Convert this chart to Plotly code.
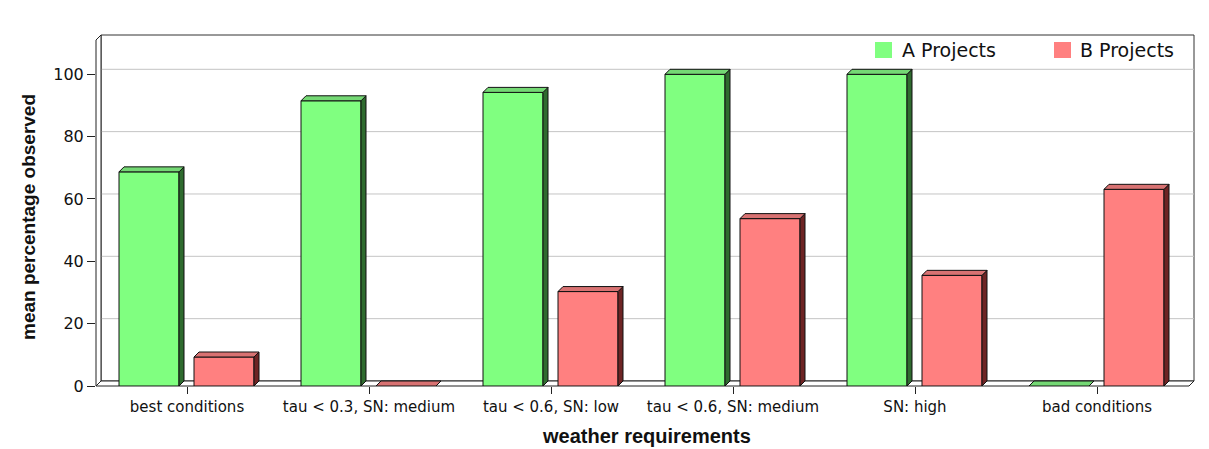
import plotly.graph_objects as go

# ---- data -------------------------------------------------------------
categories = [
    "best conditions",
    "tau < 0.3, SN: medium",
    "tau < 0.6, SN: low",
    "tau < 0.6, SN: medium",
    "SN: high",
    "bad conditions",
]
a_projects = [68.7, 91.5, 94.2, 100.0, 100.0, 0.0]
b_projects = [9.3, 0.0, 30.3, 53.7, 35.5, 63.1]
y_ticks = [0, 20, 40, 60, 80, 100]

# ---- geometry of the plotting area (pixels) --------------------------
W, H = 1209, 449
PX_L, PX_R, PX_T, PX_B = 96, 1194, 35, 386
CAT_PX = 182.0           # pixels per category
Y_PX = 3.117             # pixels per percentage point
DEPTH = 5                # 3D depth offset in pixels

x_lo = -0.5
x_hi = x_lo + (PX_R - PX_L) / CAT_PX
y_hi = (PX_B - PX_T) / Y_PX
dx = DEPTH / CAT_PX
dy = DEPTH / Y_PX

BAR_W = 60 / CAT_PX
OFF_A = -68 / CAT_PX
OFF_B = 7 / CAT_PX


def pxx(p):
    return (p - PX_L) / (PX_R - PX_L)


def pxy(p):
    return (PX_B - p) / (PX_B - PX_T)


series = [
    ("A Projects", a_projects, OFF_A, "#80ff80", "#74d874", "#2f6b2f"),
    ("B Projects", b_projects, OFF_B, "#ff8080", "#d87272", "#6e2424"),
]

fig = go.Figure()
xs = list(range(len(categories)))

for name, vals, off, front, top, side in series:
    # front faces
    fig.add_trace(go.Bar(
        x=xs, y=vals, offset=off, width=BAR_W, name=name,
        marker=dict(color=front, line=dict(color="#111111", width=1)),
        showlegend=False,
    ))
    # side and top faces
    for i, v in enumerate(vals):
        xl = i + off
        xr = xl + BAR_W
        fig.add_trace(go.Scatter(
            x=[xr, xr + dx, xr + dx, xr, xr],
            y=[0, dy, v + dy, v, 0],
            mode="lines", fill="toself", fillcolor=side,
            line=dict(color="#111111", width=1),
            hoverinfo="skip", showlegend=False,
        ))
        fig.add_trace(go.Scatter(
            x=[xl, xl + dx, xr + dx, xr, xl],
            y=[v, v + dy, v + dy, v, v],
            mode="lines", fill="toself", fillcolor=top,
            line=dict(color="#111111", width=1),
            hoverinfo="skip", showlegend=False,
        ))

shapes = []
# back wall
shapes.append(dict(type="rect", xref="paper", yref="paper",
                   x0=pxx(PX_L + DEPTH), x1=pxx(PX_R), y0=pxy(PX_B - DEPTH), y1=pxy(PX_T),
                   line=dict(color="#333333", width=1), fillcolor="white", layer="below"))
# gridlines on the back wall
for t in y_ticks[1:]:
    shapes.append(dict(type="line", xref="paper", yref="y",
                       x0=pxx(PX_L + DEPTH), x1=pxx(PX_R), y0=t + dy, y1=t + dy,
                       line=dict(color="#c4c4c4", width=1), layer="below"))
# left wall
shapes.append(dict(type="path", xref="paper", yref="paper",
                   path=f"M {pxx(PX_L)} {pxy(PX_B)} L {pxx(PX_L)} {pxy(PX_T + DEPTH)} "
                        f"L {pxx(PX_L + DEPTH)} {pxy(PX_T)} L {pxx(PX_L + DEPTH)} {pxy(PX_B - DEPTH)} Z",
                   line=dict(color="#222222", width=1), fillcolor="white", layer="below"))
# floor
shapes.append(dict(type="path", xref="paper", yref="paper",
                   path=f"M {pxx(PX_L)} {pxy(PX_B)} L {pxx(PX_R - DEPTH)} {pxy(PX_B)} "
                        f"L {pxx(PX_R)} {pxy(PX_B - DEPTH)} L {pxx(PX_L + DEPTH)} {pxy(PX_B - DEPTH)} Z",
                   line=dict(color="#222222", width=1), fillcolor="white", layer="below"))

# legend boxes
annotations = []
legend_items = [("A Projects", "#80ff80", 875, 900), ("B Projects", "#ff8080", 1054, 1078)]
for label, color, bx, tx in legend_items:
    shapes.append(dict(type="rect", xref="paper", yref="paper",
                       x0=pxx(bx), x1=pxx(bx + 17), y0=pxy(58), y1=pxy(42),
                       line=dict(width=0), fillcolor=color))
    annotations.append(dict(text=label, xref="paper", yref="paper", x=pxx(tx), y=pxy(50),
                            xanchor="left", yanchor="middle", showarrow=False,
                            font=dict(family="DejaVu Sans", size=19, color="#111111")))

annotations.append(dict(text="<b>mean percentage observed</b>", xref="paper", yref="paper",
                        x=pxx(28), y=pxy(217), textangle=-90, showarrow=False,
                        xanchor="center", yanchor="middle",
                        font=dict(family="Liberation Sans", size=19, color="#111111")))
annotations.append(dict(text="<b>weather requirements</b>", xref="paper", yref="paper",
                        x=pxx(646), y=pxy(436), showarrow=False,
                        xanchor="center", yanchor="middle",
                        font=dict(family="Liberation Sans", size=20, color="#111111")))

fig.update_layout(
    width=W, height=H,
    margin=dict(l=PX_L, r=W - PX_R, t=PX_T, b=H - PX_B, pad=0),
    paper_bgcolor="white", plot_bgcolor="rgba(0,0,0,0)",
    barmode="overlay", shapes=shapes, annotations=annotations,
    xaxis=dict(range=[x_lo, x_hi], tickvals=xs, ticktext=categories,
               showgrid=False, zeroline=False, showline=False,
               ticks="outside", ticklen=7, tickcolor="#222222",
               tickfont=dict(family="DejaVu Sans", size=15, color="#111111")),
    yaxis=dict(range=[0, y_hi], tickvals=y_ticks,
               showgrid=False, zeroline=False, showline=False,
               ticks="outside", ticklen=8, tickcolor="#222222",
               tickfont=dict(family="DejaVu Sans", size=16, color="#111111")),
)

fig.write_html("out.html")
